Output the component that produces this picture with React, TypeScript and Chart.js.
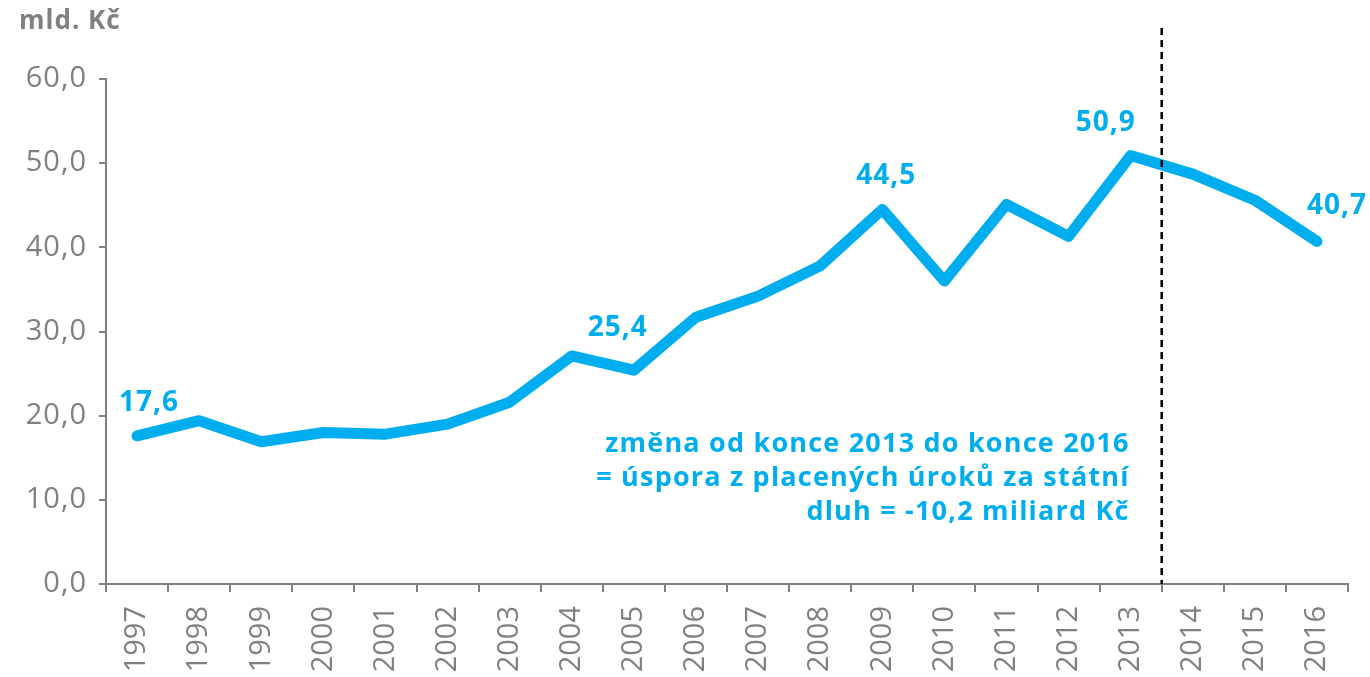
import React, { useEffect, useRef } from "react";
import { Chart, registerables, LinearScale } from "chart.js";

Chart.register(...registerables);

class SpacedLinearScale extends LinearScale {
  static id = "spacedLinear";
  drawLabels(area: any) {
    const ctx = (this as any).ctx;
    ctx.save();
    (ctx as any).letterSpacing = "1px";
    super.drawLabels(area);
    ctx.restore();
  }
}
Chart.register(SpacedLinearScale as any);

const years = ["1997","1998","1999","2000","2001","2002","2003","2004","2005","2006","2007","2008","2009","2010","2011","2012","2013","2014","2015","2016"];
const interestPaid = [17.6, 19.4, 16.9, 18.0, 17.8, 19.0, 21.6, 27.1, 25.4, 31.7, 34.2, 37.8, 44.5, 36.0, 45.1, 41.3, 50.9, 48.7, 45.6, 40.7];
const labeledIndices = [0, 8, 12, 16, 19];
const labelShift = [[12, -33], [-16, -42], [4, -33], [-25, -33], [20, -35]];
const unitLabel = "mld. Kč";
const noteLines = ["změna od konce 2013 do konce 2016", "= úspora z placených úroků za státní", "dluh = -10,2 miliard Kč"];
const dividerAfterIndex = 16;

const BLUE = "#00AEEF";
const GRAY = "#808080";
const FONT = "'Open Sans', sans-serif";

const fmt = (v: number) => v.toFixed(1).replace(".", ",");

const overlay = {
  id: "overlay",
  afterDatasetsDraw(chart: any) {
    const { ctx, chartArea } = chart;
    const xs = chart.scales.x;
    const meta = chart.getDatasetMeta(0);
    ctx.save();
    // unit label
    ctx.fillStyle = GRAY;
    ctx.letterSpacing = "1px";
    ctx.font = `bold 26px ${FONT}`;
    ctx.textAlign = "left";
    ctx.textBaseline = "middle";
    ctx.fillText(unitLabel, 19, 22);
    // dashed divider
    const dx = (xs.getPixelForValue(dividerAfterIndex) + xs.getPixelForValue(dividerAfterIndex + 1)) / 2;
    ctx.strokeStyle = "#000";
    ctx.lineWidth = 2.5;
    ctx.setLineDash([7, 5]);
    ctx.beginPath();
    ctx.moveTo(dx, 28);
    ctx.lineTo(dx, chartArea.bottom);
    ctx.stroke();
    ctx.setLineDash([]);
    // data labels
    ctx.fillStyle = BLUE;
    ctx.letterSpacing = "1px";
    ctx.font = `bold 28px ${FONT}`;
    ctx.textAlign = "center";
    labeledIndices.forEach((idx, k) => {
      const p = meta.data[idx];
      ctx.fillText(fmt(interestPaid[idx]), p.x + labelShift[k][0], p.y + labelShift[k][1]);
    });
    // note
    ctx.letterSpacing = "1.2px";
    ctx.font = `bold 27px ${FONT}`;
    ctx.textAlign = "right";
    noteLines.forEach((line, i) => {
      ctx.fillText(line, dx - 32, 444 + i * 34);
    });
    ctx.restore();
  },
};

export default function App() {
  const ref = useRef<HTMLCanvasElement>(null);
  useEffect(() => {
    if (!ref.current) return;
    const chart = new Chart(ref.current, {
      type: "line",
      data: {
        labels: years,
        datasets: [
          {
            data: interestPaid,
            borderColor: BLUE,
            borderWidth: 11,
            borderCapStyle: "round",
            borderJoinStyle: "round",
            pointRadius: 0,
            tension: 0,
            fill: false,
          },
        ],
      },
      options: {
        animation: false,
        responsive: false,
        maintainAspectRatio: false,
        layout: { padding: { top: 79, right: 22, left: 0, bottom: 0 } },
        plugins: { legend: { display: false }, tooltip: { enabled: false }, title: { display: false } },
        scales: {
          x: {
            offset: true,
            grid: { offset: true, drawOnChartArea: false, drawTicks: true, tickLength: 8, color: GRAY, lineWidth: 2 },
            border: { display: true, color: GRAY, width: 2 },
            ticks: { autoSkip: false, minRotation: 90, maxRotation: 90, color: GRAY, padding: 14, font: { family: FONT, size: 29 } },
            afterFit: (s: any) => { s.height = 93; },
          },
          y: {
            type: "spacedLinear",
            min: 0,
            max: 60,
            grid: { drawOnChartArea: false, drawTicks: true, tickLength: 7, color: GRAY, lineWidth: 2 },
            border: { display: true, color: GRAY, width: 2 },
            ticks: { stepSize: 10, color: GRAY, padding: 12, font: { family: FONT, size: 29 }, callback: (v: any) => fmt(Number(v)) },
            afterFit: (s: any) => { s.width = 106; },
          },
        },
      },
      plugins: [overlay],
    } as any);
    return () => chart.destroy();
  }, []);
  return (
    <div style={{ position: "fixed", left: 0, top: 0, width: 1370, height: 677, background: "#fff" }}>
      <canvas ref={ref} width={1370} height={677} style={{ display: "block" }} />
    </div>
  );
}
